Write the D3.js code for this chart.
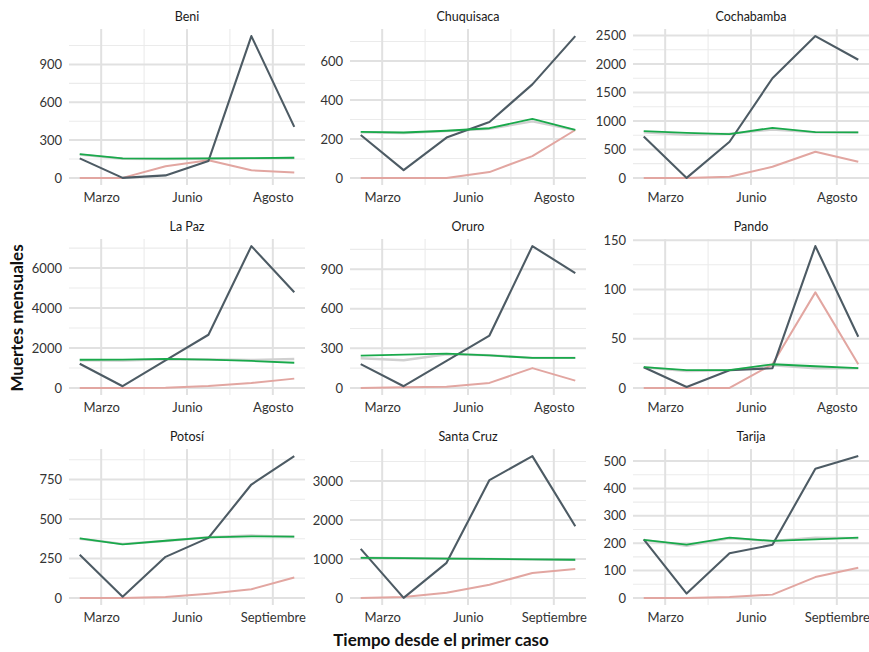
<!DOCTYPE html>
<html>
<head>
<meta charset="utf-8">
<script src="https://cdn.jsdelivr.net/npm/d3@7"></script>
<style>
  body { margin: 0; background: #fff; }
  text { font-family: Lato, "Open Sans", sans-serif; }
</style>
</head>
<body>
<svg id="chart" width="869" height="652"></svg>
<script>
// Departamentos de Bolivia, en el orden de la cuadrícula 3x3
const departamentos = ["Beni", "Chuquisaca", "Cochabamba", "La Paz", "Oruro", "Pando", "Potosí", "Santa Cruz", "Tarija"];

// Meses desde el primer caso (índice de cada punto)
const meses = [0, 1, 2, 3, 4, 5];

// Etiquetas del eje x por fila y su posición en meses
const etiquetasX = [["Marzo", "Junio", "Agosto"], ["Marzo", "Junio", "Agosto"], ["Marzo", "Junio", "Septiembre"]];
const ticksX = [0.5, 2.5, 4.5];
const ticksMenoresX = [1.5, 3.5];

// Paso entre las marcas del eje y de cada panel
const pasoY = [300, 200, 500, 2000, 300, 50, 250, 1000, 100];

// Muertes mensuales registradas (total)
const muertesTotales = [
  [155, 0, 20, 135, 1125, 405],
  [220, 40, 207, 287, 480, 728],
  [725, 0, 635, 1750, 2490, 2075],
  [1210, 85, 1380, 2660, 7100, 4790],
  [180, 13, 205, 397, 1075, 870],
  [21, 1, 18, 20, 144, 52],
  [273, 8, 260, 380, 718, 898],
  [1260, 0, 900, 3025, 3640, 1840],
  [214, 16, 163, 194, 472, 518]
];

// Muertes esperadas
const muertesEsperadas = [
  [188, 155, 153, 155, 157, 160],
  [236, 233, 242, 255, 303, 247],
  [820, 790, 770, 880, 805, 800],
  [1410, 1415, 1450, 1420, 1350, 1260],
  [245, 252, 260, 246, 228, 228],
  [21, 18, 18, 24, 22, 20],
  [377, 339, 362, 383, 390, 388],
  [1030, 1020, 1010, 1000, 990, 980],
  [212, 195, 220, 208, 214, 220]
];

// Promedio histórico (línea tenue bajo la esperada)
const promedioHistorico = [
  [185, 152, 150, 152, 155, 158],
  [234, 230, 240, 252, 290, 245],
  [800, 755, 775, 850, 800, 800],
  [1380, 1370, 1430, 1420, 1400, 1450],
  [225, 210, 255, 248, 228, 228],
  [21, 17, 18, 23, 20, 20],
  [375, 342, 360, 385, 395, 388],
  [1030, 1020, 1010, 1000, 990, 980],
  [212, 190, 218, 208, 220, 218]
];

// Muertes confirmadas por COVID-19
const muertesCovid = [
  [0, 0, 93, 140, 60, 42],
  [0, 0, 0, 30, 112, 246],
  [0, 0, 20, 195, 460, 285],
  [0, 0, 10, 90, 250, 465],
  [0, 5, 8, 38, 150, 55],
  [0, 0, 0, 24, 97, 24],
  [0, 0, 5, 27, 55, 129],
  [0, 25, 130, 340, 640, 745],
  [0, 0, 3, 12, 76, 110]
];

const svg = d3.select("#chart");
const colIzq = [69, 350, 633];
const filaSup = [29, 239, 449];
const ancho = 236, alto = 156;

const colores = {
  total: "#4d5b64",
  esperada: "#19a94b",
  historico: "#d0d0d0",
  covid: "#e2a6a1"
};

departamentos.forEach((dep, i) => {
  const col = i % 3, fila = Math.floor(i / 3);
  const g = svg.append("g").attr("transform", `translate(${colIzq[col]},${filaSup[fila]})`);

  const maximo = d3.max([muertesTotales[i], muertesEsperadas[i], promedioHistorico[i], muertesCovid[i]].flat());
  const x = d3.scaleLinear().domain([-0.25, 5.25]).range([0, ancho]);
  const y = d3.scaleLinear().domain([-0.05 * maximo, 1.05 * maximo]).range([alto, 0]);

  const paso = pasoY[i];
  const ticksY = d3.range(0, maximo * 1.05 + 1e-9, paso);
  const menoresY = d3.range(paso / 2, maximo * 1.05, paso);

  // Cuadrícula menor
  g.selectAll(".hmenor").data(menoresY).join("line")
    .attr("x1", 0).attr("x2", ancho)
    .attr("y1", d => y(d)).attr("y2", d => y(d))
    .attr("stroke", "#ebebeb").attr("stroke-width", 1.1);
  g.selectAll(".vmenor").data(ticksMenoresX).join("line")
    .attr("y1", 0).attr("y2", alto)
    .attr("x1", d => x(d)).attr("x2", d => x(d))
    .attr("stroke", "#ebebeb").attr("stroke-width", 1.1);

  // Cuadrícula mayor
  g.selectAll(".hmayor").data(ticksY).join("line")
    .attr("x1", 0).attr("x2", ancho)
    .attr("y1", d => y(d)).attr("y2", d => y(d))
    .attr("stroke", "#e1e1e1").attr("stroke-width", 2);
  g.selectAll(".vmayor").data(ticksX).join("line")
    .attr("y1", 0).attr("y2", alto)
    .attr("x1", d => x(d)).attr("x2", d => x(d))
    .attr("stroke", "#e1e1e1").attr("stroke-width", 2);

  // Ejes (solo etiquetas)
  const ejeY = g.append("g")
    .call(d3.axisLeft(y).tickValues(ticksY).tickSize(0).tickPadding(7).tickFormat(d3.format("d")));
  const ejeX = g.append("g").attr("transform", `translate(0,${alto})`)
    .call(d3.axisBottom(x).tickValues(ticksX).tickSize(0).tickPadding(8)
      .tickFormat((d, k) => etiquetasX[fila][k]));
  [ejeY, ejeX].forEach(e => {
    e.select(".domain").remove();
    e.selectAll("text").attr("font-size", 13).attr("fill", "#333")
      .attr("font-family", "Lato, sans-serif");
  });

  // Líneas de datos
  const linea = d3.line().x((d, k) => x(meses[k])).y(d => y(d));
  const series = [
    [promedioHistorico[i], colores.historico, 2.4],
    [muertesCovid[i], colores.covid, 2],
    [muertesTotales[i], colores.total, 2.1],
    [muertesEsperadas[i], colores.esperada, 1.8]
  ];
  series.forEach(([valores, color, grosor]) => {
    g.append("path").datum(valores)
      .attr("d", linea)
      .attr("fill", "none")
      .attr("stroke", color)
      .attr("stroke-width", grosor)
      .attr("stroke-linejoin", "round");
  });

  // Título del panel
  g.append("text")
    .attr("x", ancho / 2).attr("y", -8)
    .attr("text-anchor", "middle")
    .attr("font-size", 12.5).attr("fill", "#1a1a1a")
    .text(dep);
});

// Títulos de los ejes
svg.append("text")
  .attr("transform", "translate(23,318) rotate(-90)")
  .attr("text-anchor", "middle")
  .attr("font-size", 17).attr("font-weight", 700).attr("fill", "#111")
  .text("Muertes mensuales");

svg.append("text")
  .attr("x", 441).attr("y", 646)
  .attr("text-anchor", "middle")
  .attr("font-size", 17).attr("font-weight", 700).attr("fill", "#111")
  .text("Tiempo desde el primer caso");
</script>
</body>
</html>
